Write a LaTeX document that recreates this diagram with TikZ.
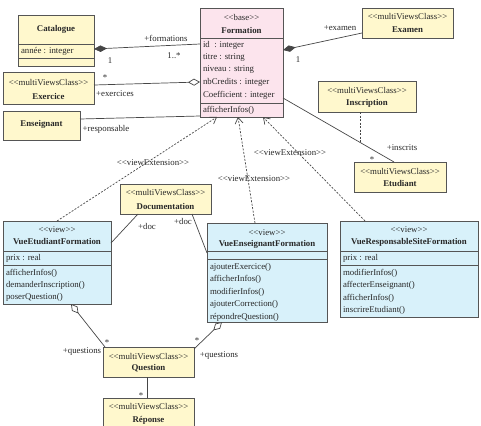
\documentclass[tikz,border=0pt]{standalone}
\usepackage{fontspec}
\setmainfont{Liberation Serif}[Ligatures=TeXOff]
\usetikzlibrary{arrows.meta,calc}
\definecolor{yelc}{RGB}{255,248,205}
\definecolor{pinkc}{RGB}{252,228,237}
\definecolor{bluec}{RGB}{216,241,250}
\definecolor{bordc}{RGB}{85,85,85}
\definecolor{linec}{RGB}{70,70,70}
\definecolor{txtc}{RGB}{40,40,40}
\begin{document}
\begin{tikzpicture}[x=1pt,y=-1pt,
  every node/.style={inner sep=0pt, outer sep=0pt, font=\fontsize{8.8}{10}\selectfont, text=txtc},
  cls/.style={draw=bordc, line width=0.9pt, anchor=north west},
  ycls/.style={cls, fill=yelc},
  pcls/.style={cls, fill=pinkc},
  bcls/.style={cls, fill=bluec},
  div/.style={draw=bordc, line width=0.9pt},
  conn/.style={draw=linec, line width=0.7pt},
  dashconn/.style={conn, dash pattern=on 2pt off 1.5pt},
  compo/.style={conn, {Diamond[length=13pt,width=6.5pt,fill=linec]}-},
  aggr/.style={conn, {Diamond[length=12pt,width=7pt,fill=white]}-},
  viewext/.style={dashconn, -{Straight Barb[length=6pt,width=8pt]}}
]
\useasboundingbox (0,0) rectangle (481,425);

% ---------- Catalogue ----------
\node[ycls, minimum width=76pt, minimum height=51pt] (catalogue) at (18,15) {};
\node (catalogue-n) at ($(catalogue.north)+(0,14)$) {\textbf{Catalogue}};
\draw[div] ($(catalogue.north west)+(0,29)$) -- ($(catalogue.north east)+(0,29)$);
\node[anchor=west] (catalogue-a1) at ($(catalogue.north west)+(3,36)$) {année : integer};
\draw[div] ($(catalogue.north west)+(0,43)$) -- ($(catalogue.north east)+(0,43)$);

% ---------- Formation ----------
\node[pcls, minimum width=83pt, minimum height=109pt] (formation) at (200,8) {};
\node (formation-s) at ($(formation.north)+(0,9)$) {<<base>>};
\node (formation-n) at ($(formation.north)+(0,22)$) {\textbf{Formation}};
\draw[div] ($(formation.north west)+(0,30)$) -- ($(formation.north east)+(0,30)$);
\foreach \t/\o [count=\i] in {id~ : integer/37, titre : string/50, niveau : string/62, nbCredits : integer/74, Coefficient : integer/87}
  \node[anchor=west] (formation-a\i) at ($(formation.north west)+(3,\o)$) {\t};
\draw[div] ($(formation.north west)+(0,95)$) -- ($(formation.north east)+(0,95)$);
\node[anchor=west] (formation-m1) at ($(formation.north west)+(3,102)$) {afficherInfos()};

% ---------- Examen ----------
\node[ycls, minimum width=91pt, minimum height=30pt] (examen) at (362,8) {};
\node (examen-s) at ($(examen.north)+(0,9)$) {<<multiViewsClass>>};
\node (examen-n) at ($(examen.north)+(0,22)$) {\textbf{Examen}};

% ---------- Exercice ----------
\node[ycls, minimum width=91pt, minimum height=32pt] (exercice) at (3,72) {};
\node (exercice-s) at ($(exercice.north)+(0,11)$) {<<multiViewsClass>>};
\node (exercice-n) at ($(exercice.north)+(0,24)$) {\textbf{Exercice}};

% ---------- Enseignant ----------
\node[ycls, minimum width=77pt, minimum height=29pt] (enseignant) at (3,111) {};
\node (enseignant-n) at ($(enseignant.north)+(0,13)$) {\textbf{Enseignant}};

% ---------- Inscription ----------
\node[ycls, minimum width=98pt, minimum height=31pt] (inscription) at (318,81) {};
\node (inscription-s) at ($(inscription.north)+(0,10)$) {<<multiViewsClass>>};
\node (inscription-n) at ($(inscription.north)+(0,22)$) {\textbf{Inscription}};

% ---------- Etudiant ----------
\node[ycls, minimum width=92pt, minimum height=30pt] (etudiant) at (354,162) {};
\node (etudiant-s) at ($(etudiant.north)+(0,10)$) {<<multiViewsClass>>};
\node (etudiant-n) at ($(etudiant.north)+(0,21)$) {\textbf{Etudiant}};

% ---------- Documentation ----------
\node[ycls, minimum width=91pt, minimum height=30pt] (documentation) at (120,184) {};
\node (documentation-s) at ($(documentation.north)+(0,9)$) {<<multiViewsClass>>};
\node (documentation-n) at ($(documentation.north)+(0,22)$) {\textbf{Documentation}};

% ---------- VueEtudiantFormation ----------
\node[bcls, minimum width=108pt, minimum height=83pt] (vueetu) at (3,221) {};
\node (vueetu-s) at ($(vueetu.north)+(0,9)$) {<<view>>};
\node (vueetu-n) at ($(vueetu.north)+(0,21)$) {\textbf{VueEtudiantFormation}};
\draw[div] ($(vueetu.north west)+(0,30)$) -- ($(vueetu.north east)+(0,30)$);
\node[anchor=west] (vueetu-a1) at ($(vueetu.north west)+(3,37)$) {prix : real};
\draw[div] ($(vueetu.north west)+(0,44)$) -- ($(vueetu.north east)+(0,44)$);
\foreach \t/\o [count=\i] in {afficherInfos()/52, demanderInscription()/64, poserQuestion()/76}
  \node[anchor=west] (vueetu-m\i) at ($(vueetu.north west)+(3,\o)$) {\t};

% ---------- VueEnseignantFormation ----------
\node[bcls, minimum width=120pt, minimum height=99pt] (vueens) at (207,223) {};
\node (vueens-s) at ($(vueens.north)+(0,10)$) {<<view>>};
\node (vueens-n) at ($(vueens.north)+(0,21)$) {\textbf{VueEnseignantFormation}};
\draw[div] ($(vueens.north west)+(0,28)$) -- ($(vueens.north east)+(0,28)$);
\draw[div] ($(vueens.north west)+(0,36)$) -- ($(vueens.north east)+(0,36)$);
\foreach \t/\o [count=\i] in {ajouterExercice()/44, afficherInfos()/56, modifierInfos()/69, ajouterCorrection()/81, répondreQuestion()/94}
  \node[anchor=west] (vueens-m\i) at ($(vueens.north west)+(3,\o)$) {\t};

% ---------- VueResponsableSiteFormation ----------
\node[bcls, minimum width=138pt, minimum height=96pt] (vueresp) at (340,221) {};
\node (vueresp-s) at ($(vueresp.north)+(0,9)$) {<<view>>};
\node (vueresp-n) at ($(vueresp.north)+(0,21)$) {\textbf{VueResponsableSiteFormation}};
\draw[div] ($(vueresp.north west)+(0,30)$) -- ($(vueresp.north east)+(0,30)$);
\node[anchor=west] (vueresp-a1) at ($(vueresp.north west)+(3,37)$) {prix : real};
\draw[div] ($(vueresp.north west)+(0,44)$) -- ($(vueresp.north east)+(0,44)$);
\foreach \t/\o [count=\i] in {modifierInfos()/52, affecterEnseignant()/64, afficherInfos()/77, inscrireEtudiant()/89}
  \node[anchor=west] (vueresp-m\i) at ($(vueresp.north west)+(3,\o)$) {\t};

% ---------- Question ----------
\node[ycls, minimum width=91pt, minimum height=30pt] (question) at (103,347) {};
\node (question-s) at ($(question.north)+(0,10)$) {<<multiViewsClass>>};
\node (question-n) at ($(question.north)+(0,21)$) {\textbf{Question}};

% ---------- Réponse ----------
\node[ycls, minimum width=91pt, minimum height=30pt] (reponse) at (103,398) {};
\node (reponse-s) at ($(reponse.north)+(0,9)$) {<<multiViewsClass>>};
\node (reponse-n) at ($(reponse.north)+(0,22)$) {\textbf{Réponse}};

% ================= Connectors =================
\draw[compo] ($(catalogue.north east)+(0,34)$) -- ($(formation.north west)+(0,36)$);
\draw[compo] ($(formation.north east)+(0,42)$) -- ($(examen.north west)+(0,25)$);
\draw[aggr] ($(formation.north west)+(0,74)$) -- ($(exercice.north east)+(0,13)$);
\draw[conn] ($(enseignant.north east)+(0,8)$) -- ($(formation.north west)+(0,108)$);
\draw[conn] ($(formation.north east)+(0,90)$) -- ($(etudiant.north west)+(40,0)$) coordinate[pos=0.70] (assoc);
\draw[dashconn] (assoc |- inscription.south) -- (assoc);

\draw[viewext] ($(vueetu.north west)+(54,0)$) -- ($(formation.south west)+(17,0)$);
\draw[viewext] ($(vueens.north west)+(48,0)$) -- ($(formation.south west)+(38,0)$);
\draw[viewext] ($(vueresp.north west)+(25,0)$) -- ($(formation.south west)+(63,0)$);

\draw[conn] ($(documentation.south west)+(18,0)$) -- ($(vueetu.north east)+(0,22)$);
\draw[conn] ($(documentation.south west)+(72,0)$) -- ($(vueens.north west)+(0,30)$);

\draw[aggr] ($(vueetu.south west)+(68,0)$) -- ($(question.north west)+(2,0)$);
\draw[aggr] ($(vueens.south west)+(15,0)$) -- ($(question.north east)+(0,2)$);
\draw[conn] ($(question.south west)+(44,0)$) -- ($(reponse.north west)+(44,0)$);

% ================= Labels =================
\node (l-formations) at (166,38) {+formations};
\node (l-cat1) at (110,61) {1};
\node (l-form1n) at (174,56) {1..*};
\node (l-examen) at (340,28) {+examen};
\node (l-exam1) at (298,60) {1};
\node (l-exstar) at (105,78) {*};
\node (l-exercices) at (115,94) {+exercices};
\node (l-responsable) at (106,129) {+responsable};
\node (l-inscrits) at (402,148) {+inscrits};
\node (l-etustar) at (372,160) {*};
\node (l-ve1) at (153,163) {<<viewExtension>>};
\node (l-ve2) at (254,179) {<<viewExtension>>};
\node (l-ve3) at (290,153) {<<viewExtension>>};
\node (l-doc1) at (147,226) {+doc};
\node (l-doc2) at (183,221) {+doc};
\node (l-qstar1) at (107,343) {*};
\node (l-questions1) at (82,352) {+questions};
\node (l-qstar2) at (197,341) {*};
\node (l-questions2) at (219,356) {+questions};
\node (l-rstar) at (141,396) {*};
\end{tikzpicture}
\end{document}
